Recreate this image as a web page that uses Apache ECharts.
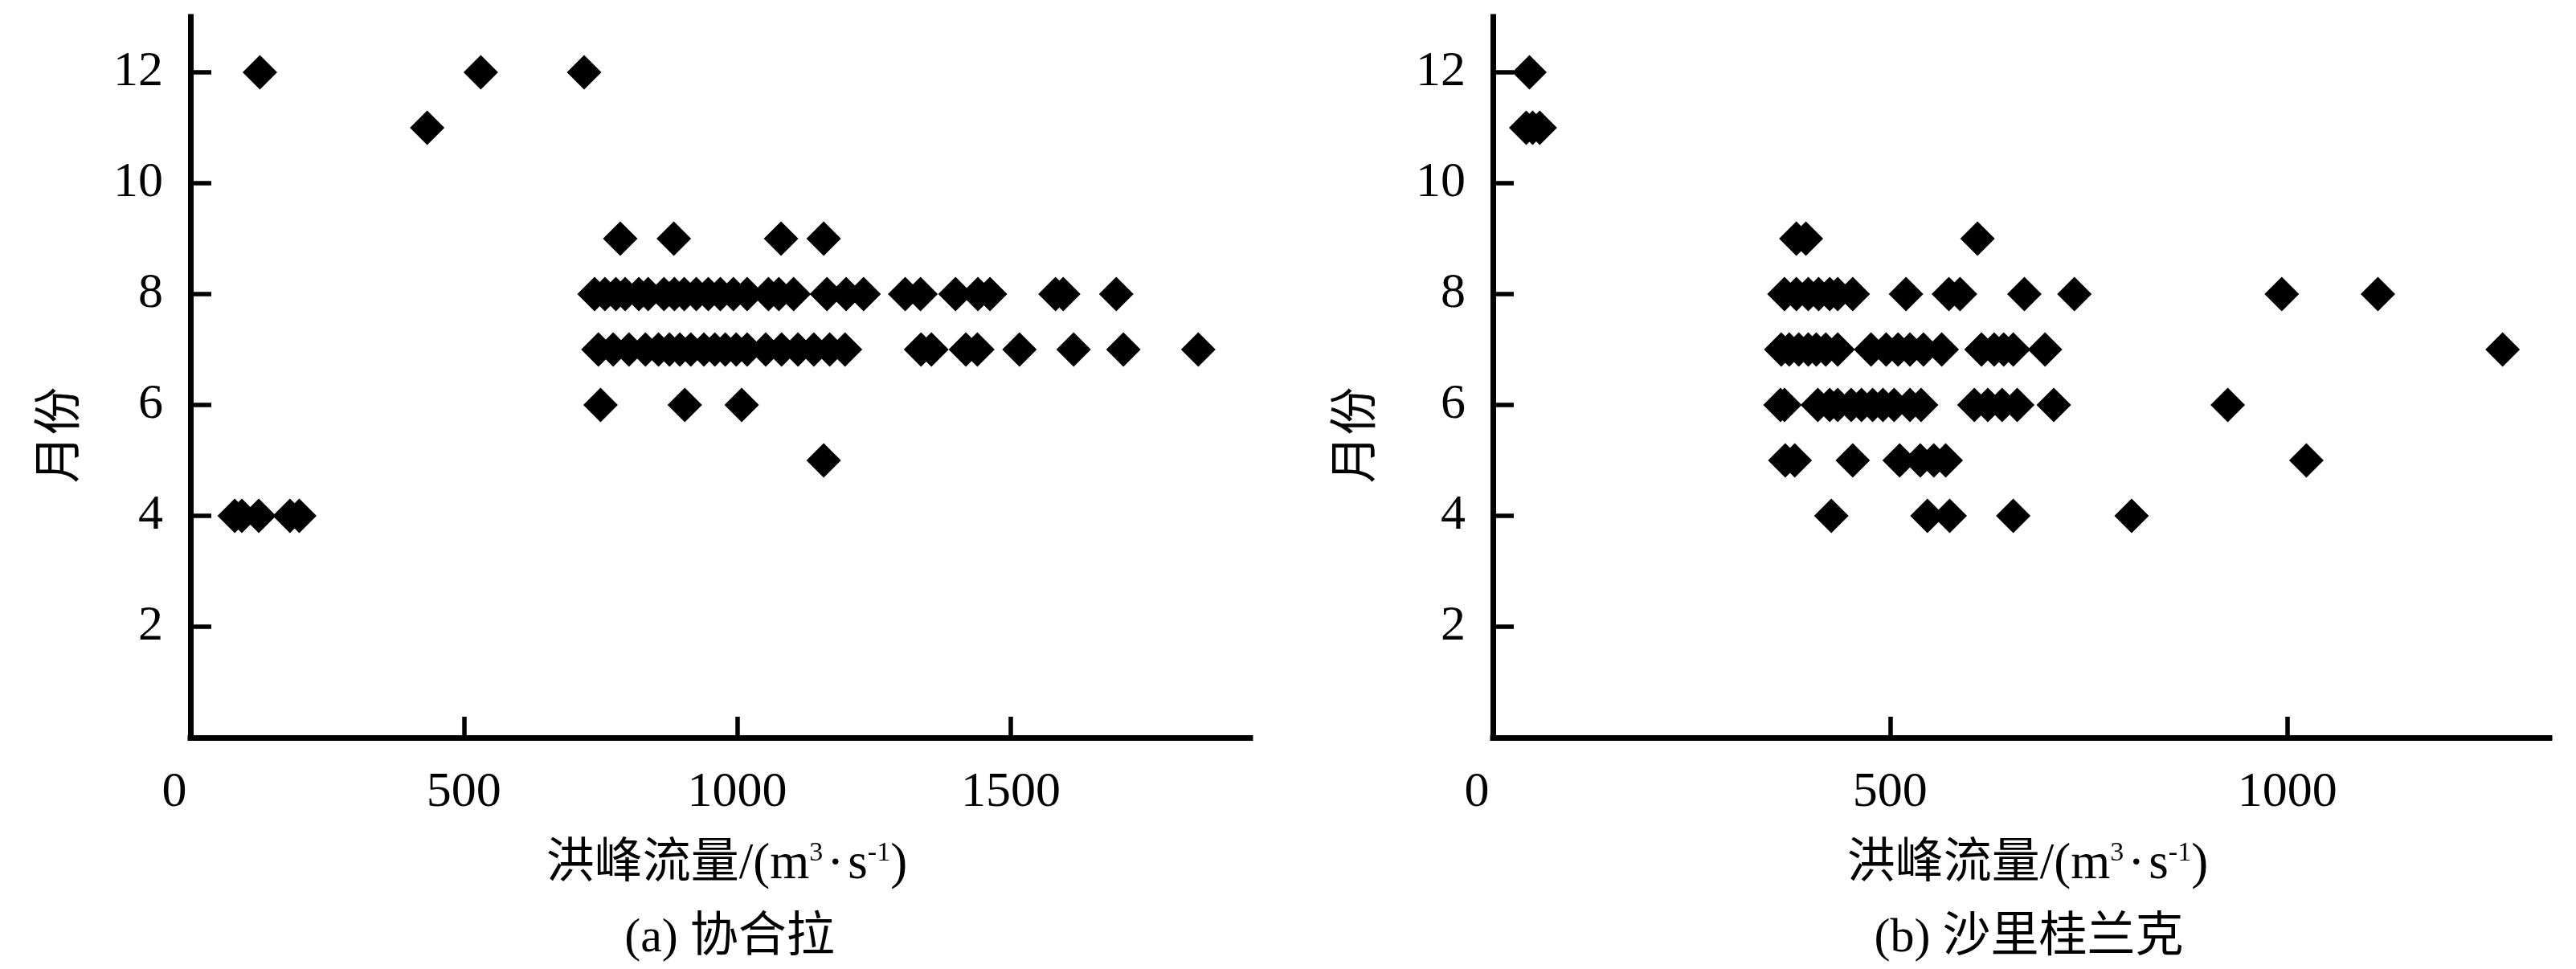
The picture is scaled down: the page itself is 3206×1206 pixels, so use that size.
<!DOCTYPE html>
<html>
<head>
<meta charset="utf-8">
<script src="https://cdn.jsdelivr.net/npm/echarts@6.0.0/dist/echarts.min.js"></script>
<style>
html,body{margin:0;padding:0;background:#fff;}
#chart{width:3206px;height:1206px;}
</style>
</head>
<body>
<div id="chart"></div>
<script>
// ---- tick labels ----
const yTickValues = [2, 4, 6, 8, 10, 12];
const xTicksA = [0, 500, 1000, 1500];
const xTicksB = [0, 500, 1000];
const xMaxA = 1938;
const xMaxB = 1330;
const yMax = 13;

// ---- text ----
const xName = '洪峰流量{u|/(m}{sup|3}{dot|·}{u|s}{sup|-1}{u|)}';
const yName = '月份';
const titleA = '(a) 协合拉';
const titleB = '(b) 沙里桂兰克';

// ---- (a) 协合拉: peak flow (m3/s) by month ----
const xiehe4 = [81, 94, 125, 182, 199];
const xiehe5 = [1158];
const xiehe6 = [750, 904, 1008];
const xiehe7 = [746, 773, 802, 832, 856, 876, 895, 915, 939, 959, 978, 998, 1018, 1052, 1081, 1111, 1140, 1169, 1197, 1336, 1355, 1418, 1439, 1516, 1615, 1706, 1843];
const xiehe8 = [739, 758, 778, 795, 820, 837, 866, 885, 903, 925, 947, 969, 993, 1018, 1057, 1076, 1103, 1164, 1199, 1231, 1307, 1335, 1399, 1440, 1462, 1582, 1596, 1693];
const xiehe9 = [786, 884, 1080, 1158];
const xiehe11 = [433];
const xiehe12 = [127, 531, 720];

// ---- (b) 沙里桂兰克: peak flow (m3/s) by month ----
const shali4 = [426, 547, 575, 655, 804];
const shali5 = [368, 380, 453, 512, 538, 555, 570, 1024];
const shali6 = [362, 367, 409, 424, 434, 451, 464, 478, 491, 505, 525, 539, 606, 623, 641, 660, 706, 925];
const shali7 = [363, 373, 385, 397, 407, 419, 434, 476, 495, 510, 525, 542, 565, 615, 631, 643, 655, 695, 1271];
const shali8 = [367, 382, 397, 410, 424, 434, 453, 520, 574, 588, 669, 732, 993, 1114];
const shali9 = [382, 394, 610];
const shali11 = [42, 50, 59];
const shali12 = [46];

function rows(list) {
  const out = [];
  list.forEach(function (r) { r[1].forEach(function (q) { out.push([q, r[0]]); }); });
  return out;
}
const dataA = rows([[4, xiehe4], [5, xiehe5], [6, xiehe6], [7, xiehe7], [8, xiehe8], [9, xiehe9], [11, xiehe11], [12, xiehe12]]);
const dataB = rows([[4, shali4], [5, shali5], [6, shali6], [7, shali7], [8, shali8], [9, shali9], [11, shali11], [12, shali12]]);

const FONT = '"Liberation Serif", "Noto Sans CJK SC", serif';
const AXIS_W = 7;

function xAxisCfg(idx, max, ticks) {
  return {
    type: 'value', gridIndex: idx, min: 0, max: max,
    splitLine: { show: false },
    axisLine: { show: true, onZero: false, lineStyle: { color: '#000', width: AXIS_W, cap: 'square' } },
    axisTick: { show: true, inside: true, length: 26, customValues: ticks.filter(function (v) { return v > 0; }),
      lineStyle: { color: '#000', width: 5.5 } },
    axisLabel: {
      show: true, customValues: ticks, margin: 38,
      color: '#000', fontSize: 62, fontFamily: FONT,
      formatter: function (v) { return v === 0 ? '{z|0}' : String(v); },
      rich: { z: { fontSize: 62, fontFamily: FONT, color: '#000', padding: [0, 40, 0, 0] } }
    },
    name: xName, nameLocation: 'middle', nameGap: 127,
    nameTextStyle: {
      color: '#000', fontSize: 60, fontFamily: FONT, padding: [0, 0, 0, 16],
      rich: {
        u: { fontSize: 63, fontFamily: FONT, color: '#000' },
        dot: { fontSize: 63, fontFamily: FONT, color: '#000', padding: [0, 5, 0, 5] },
        sup: { fontSize: 34, fontFamily: FONT, color: '#000', verticalAlign: 'top' }
      }
    }
  };
}
function yAxisCfg(idx, gap) {
  return {
    type: 'value', gridIndex: idx, min: 0, max: yMax,
    splitLine: { show: false },
    axisLine: { show: true, onZero: false, lineStyle: { color: '#000', width: AXIS_W, cap: 'square' } },
    axisTick: { show: true, inside: true, length: 26, customValues: yTickValues,
      lineStyle: { color: '#000', width: 5.5 } },
    axisLabel: { show: true, customValues: yTickValues, margin: 34, color: '#000', fontSize: 62, fontFamily: FONT },
    name: yName, nameLocation: 'middle', nameGap: gap,
    nameTextStyle: { color: '#000', fontSize: 60, fontFamily: FONT, padding: [0, 144, 0, 0] }
  };
}

const chart = echarts.init(document.getElementById('chart'), null, { renderer: 'canvas' });
chart.setOption({
  backgroundColor: '#fff',
  animation: false,
  grid: [
    { left: 237, top: 21, width: 1319, height: 897, containLabel: false },
    { left: 1858, top: 21, width: 1315, height: 897, containLabel: false }
  ],
  xAxis: [xAxisCfg(0, xMaxA, xTicksA), xAxisCfg(1, xMaxB, xTicksB)],
  yAxis: [yAxisCfg(0, 130), yAxisCfg(1, 138)],
  series: [
    { type: 'scatter', xAxisIndex: 0, yAxisIndex: 0, data: dataA, symbol: 'diamond', symbolSize: [43, 43],
      itemStyle: { color: '#000', opacity: 1 }, emphasis: { disabled: true } },
    { type: 'scatter', xAxisIndex: 1, yAxisIndex: 1, data: dataB, symbol: 'diamond', symbolSize: [43, 43],
      itemStyle: { color: '#000', opacity: 1 }, emphasis: { disabled: true } }
  ],
  graphic: [
    { type: 'text', x: 908, y: 1168, silent: true,
      style: { text: titleA, fill: '#000', font: '60px ' + FONT, align: 'center', verticalAlign: 'middle' } },
    { type: 'text', x: 2525, y: 1168, silent: true,
      style: { text: titleB, fill: '#000', font: '60px ' + FONT, align: 'center', verticalAlign: 'middle' } }
  ]
});
</script>
</body>
</html>
